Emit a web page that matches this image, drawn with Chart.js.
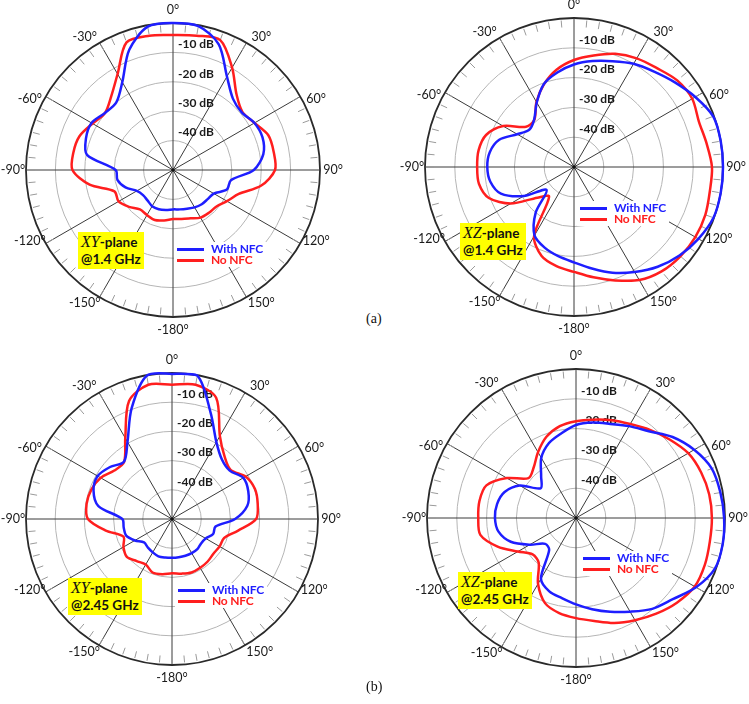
<!DOCTYPE html>
<html>
<head>
<meta charset="utf-8">
<script src="https://cdn.jsdelivr.net/npm/chart.js@4.4.1/dist/chart.umd.min.js"></script>
<style>
body{margin:0;width:749px;height:704px;position:relative;overflow:hidden;background:#fff;font-family:Lato,sans-serif}
canvas{position:absolute}
.plan{position:absolute;background:#ffff00;color:#111;font:bold 13.5px Lato;line-height:17px;padding:1px 3px;white-space:nowrap}
.plan i{font:italic 16px 'Liberation Serif'}
.leg{position:absolute;background:#fff;font:bold 12px Lato;letter-spacing:-0.2px;line-height:10.5px;padding:2px 3px;white-space:nowrap}
.leg span{display:inline-block;width:27px;height:3px;vertical-align:middle;margin-right:7px}
.cap{position:absolute;font:14px 'Liberation Serif';color:#111}
</style>
</head>
<body>
<canvas id="c1" width="380" height="350"></canvas>
<canvas id="c2" width="380" height="350"></canvas>
<canvas id="c3" width="380" height="350"></canvas>
<canvas id="c4" width="380" height="350"></canvas>

<div class="plan" style="left:78px;top:232px"><i>XY</i>-plane<br>@1.4 GHz</div>
<div class="plan" style="left:460px;top:223px"><i>XZ</i>-plane<br>@1.4 GHz</div>
<div class="plan" style="left:68px;top:578px"><i>XY</i>-plane<br>@2.45 GHz</div>
<div class="plan" style="left:458px;top:572px"><i>XZ</i>-plane<br>@2.45 GHz</div>

<div class="leg" style="left:174px;top:242px"><div style="color:#1e1eff"><span style="background:#1e1eff"></span>With NFC</div><div style="color:#ff1e1e"><span style="background:#ff1e1e"></span>No NFC</div></div>
<div class="leg" style="left:577px;top:201px"><div style="color:#1e1eff"><span style="background:#1e1eff"></span>With NFC</div><div style="color:#ff1e1e"><span style="background:#ff1e1e"></span>No NFC</div></div>
<div class="leg" style="left:175px;top:583px"><div style="color:#1e1eff"><span style="background:#1e1eff"></span>With NFC</div><div style="color:#ff1e1e"><span style="background:#ff1e1e"></span>No NFC</div></div>
<div class="leg" style="left:580px;top:551px"><div style="color:#1e1eff"><span style="background:#1e1eff"></span>With NFC</div><div style="color:#ff1e1e"><span style="background:#ff1e1e"></span>No NFC</div></div>

<div class="cap" style="left:366px;top:311px">(a)</div>
<div class="cap" style="left:366px;top:679px">(b)</div>

<script>
// angles (degrés, sens horaire depuis le haut), un point tous les 10°
const angles = [0,10,20,30,40,50,60,70,80,90,100,110,120,130,140,150,160,170,180,190,200,210,220,230,240,250,260,270,280,290,300,310,320,330,340,350];
const angleTicks = ['0°','30°','60°','90°','120°','150°','-180°','-150°','-120°','-90°','-60°','-30°'];
const dbTicks = [-10,-20,-30,-40];

// XY-plane @1.4 GHz
const xy14With = [0,-0.3,-4.5,-13.3,-18.3,-19.5,-18,-17.6,-18.8,-22.5,-30,-30.5,-34,-34.6,-34.8,-35.3,-36,-36.4,-36.6,-36.2,-35.8,-35.8,-36.5,-36.7,-35.8,-32.8,-30.8,-30.5,-20.3,-18.5,-18,-19.8,-20,-15.5,-6.5,-0.5];
const xy14No = [-4.1,-3.6,-3.0,-9.8,-16.4,-19.2,-18,-15.5,-15.2,-15.3,-19.5,-26.2,-28.8,-30.7,-31,-31.3,-32.5,-33.1,-33.3,-32.6,-31.9,-32.3,-32.5,-30.5,-28.6,-28.8,-21.2,-15.8,-15.6,-16.2,-18.4,-19.8,-17.3,-12.3,-3.8,-3.6];
// XZ-plane @1.4 GHz
const xz14With = [-15.6,-13.9,-12.2,-10,-8.2,-5.8,-3,-0.3,0,0,0,-0.2,-1.8,-3.8,-6.3,-9.3,-12.2,-15.4,-18,-19.6,-21.2,-23.5,-30,-38,-30.5,-23.9,-21.5,-20.9,-21.3,-23.3,-28,-30.5,-29.2,-25,-20.4,-17.8];
const xz14No = [-14.1,-12,-9.6,-7.9,-6.7,-4.8,-4.2,-5.4,-4.8,-3.7,-3.7,-3.1,-3.0,-3.4,-4.3,-6.2,-9.5,-12.4,-14.8,-16.2,-18.2,-23.2,-37,-34,-25.5,-19.6,-17.6,-17.5,-17.5,-18.6,-22.5,-29,-29.3,-24.8,-20.5,-16.8];
// XY-plane @2.45 GHz
const xy245With = [-0.3,-0.1,-11.3,-19.6,-23.4,-24.2,-21.8,-22.2,-23.8,-28.4,-34.9,-35,-36.7,-37,-36.5,-36.5,-36.6,-36.7,-36.7,-36.6,-36.4,-36.8,-37.2,-37.5,-35.3,-33.3,-33.2,-33,-24.4,-21.4,-20.6,-22.3,-24.4,-19.5,-9.6,-0.2];
const xy245No = [-4,-3.3,-5.8,-17.2,-22,-23.8,-20.9,-19.8,-20.2,-21.2,-27,-31,-31.2,-31.5,-31,-30.7,-30.5,-31,-31.4,-30.8,-30.5,-32,-31.2,-29.8,-30.8,-32.3,-27,-21.2,-20.3,-20.6,-21.8,-24.2,-24.5,-18,-7,-3.3];
// XZ-plane @2.45 GHz
const xz245With = [-18.8,-17.5,-16.4,-14.4,-12,-7.7,-4.2,-1.5,-0.8,-0.3,0,-0.4,-3.5,-7.6,-10.2,-13.7,-16.5,-18.9,-21,-22.7,-23.8,-26.5,-36,-36.5,-32.1,-26.7,-23.6,-22.8,-23.1,-24.5,-28.2,-34.5,-31.8,-26.7,-23.3,-21.2];
const xz245No = [-17.5,-16.5,-15.1,-13.6,-11.4,-9,-6.5,-5.3,-4.6,-4.4,-4.4,-4.0,-4.0,-5.8,-8.1,-10.4,-12.5,-14.9,-16.4,-17.6,-19.6,-24.5,-30.5,-31,-27.5,-22,-17.4,-17.2,-17.1,-18,-23.2,-29.2,-27.9,-24.5,-21,-18.7];

const bleu = '#1e1eff';
const rouge = '#ff1e1e';

// graduations, niveaux dB et étiquettes d'angle
const deco = {
    id: 'deco',
    beforeDatasetsDraw(chart){
        const sc = chart.scales.r;
        const ctx = chart.ctx;
        const R = sc.drawingArea;
        const pas = 360 / angles.length;
        ctx.save();
        // petites graduations tous les 5°
        ctx.strokeStyle = '#9a9a9a';
        ctx.lineWidth = 1;
        ctx.beginPath();
        for(var i=0; i<angles.length*2; i++){
            const p1 = sc.getPointPosition(i/2, R-2);
            const p2 = sc.getPointPosition(i/2, R-9);
            ctx.moveTo(p1.x, p1.y);
            ctx.lineTo(p2.x, p2.y);
        }
        ctx.stroke();

        // point au centre
        ctx.fillStyle = '#111';
        ctx.beginPath();
        ctx.arc(sc.xCenter, sc.yCenter, 1.8, 0, 2*Math.PI);
        ctx.fill();

        ctx.fillStyle = '#1a1a1a';
        ctx.font = 'bold 12px Lato';
        ctx.textAlign = 'left';
        ctx.textBaseline = 'middle';
        dbTicks.forEach(function(v){
            const d = sc.getDistanceFromCenterForValue(v);
            ctx.fillText(v+' dB', sc.xCenter+5, sc.yCenter-d-8);
        });

        ctx.font = '12.5px Lato';
        ctx.textAlign = 'center';
        angleTicks.forEach(function(t, k){
            const deg = k*30;
            var dec = 0;
            if(deg%90 != 0) dec = ((deg%180) < 90) ? 3.5 : -3.5;
            const p = sc.getPointPosition((deg+dec)/pas, R+13);
            ctx.fillText(t, p.x, p.y);
        });
        ctx.restore();
    }
};

function LancerPolaire(id, cx, cy, R, avec, sans){
    const cv = document.getElementById(id);
    cv.style.left = (cx-190)+'px';
    cv.style.top = (cy-175)+'px';
    return new Chart(cv.getContext('2d'), {
        type: 'radar',
        data: {
            labels: angles,
            datasets: [
                { label: 'With NFC', data: avec, borderColor: bleu },
                { label: 'No NFC', data: sans, borderColor: rouge }
            ]
        },
        options: {
            responsive: false,
            animation: false,
            layout: { padding: { left: 190-R, right: 190-R, top: 175-R, bottom: 175-R } },
            elements: {
                line: { borderWidth: 2.5, tension: 0.3, fill: false },
                point: { radius: 0, hoverRadius: 0 }
            },
            plugins: { legend: { display: false }, tooltip: { enabled: false } },
            scales: {
                r: {
                    min: -50,
                    max: 0,
                    ticks: { display: false, stepSize: 10 },
                    pointLabels: { display: false },
                    grid: {
                        circular: true,
                        color: (c) => c.tick && c.tick.value === 0 ? '#2a2a2a' : '#b5b5b5',
                        lineWidth: (c) => c.tick && c.tick.value === 0 ? 1.8 : 1
                    },
                    angleLines: {
                        color: '#3a3a3a',
                        lineWidth: (c) => (c.index % 3 === 0) ? 1 : 0
                    }
                }
            }
        },
        plugins: [deco]
    });
}

LancerPolaire('c1', 173, 170, 147, xy14With, xy14No);
LancerPolaire('c2', 574, 167, 149, xz14With, xz14No);
LancerPolaire('c3', 172, 519, 146, xy245With, xy245No);
LancerPolaire('c4', 576, 518, 149, xz245With, xz245No);
</script>
</body>
</html>
